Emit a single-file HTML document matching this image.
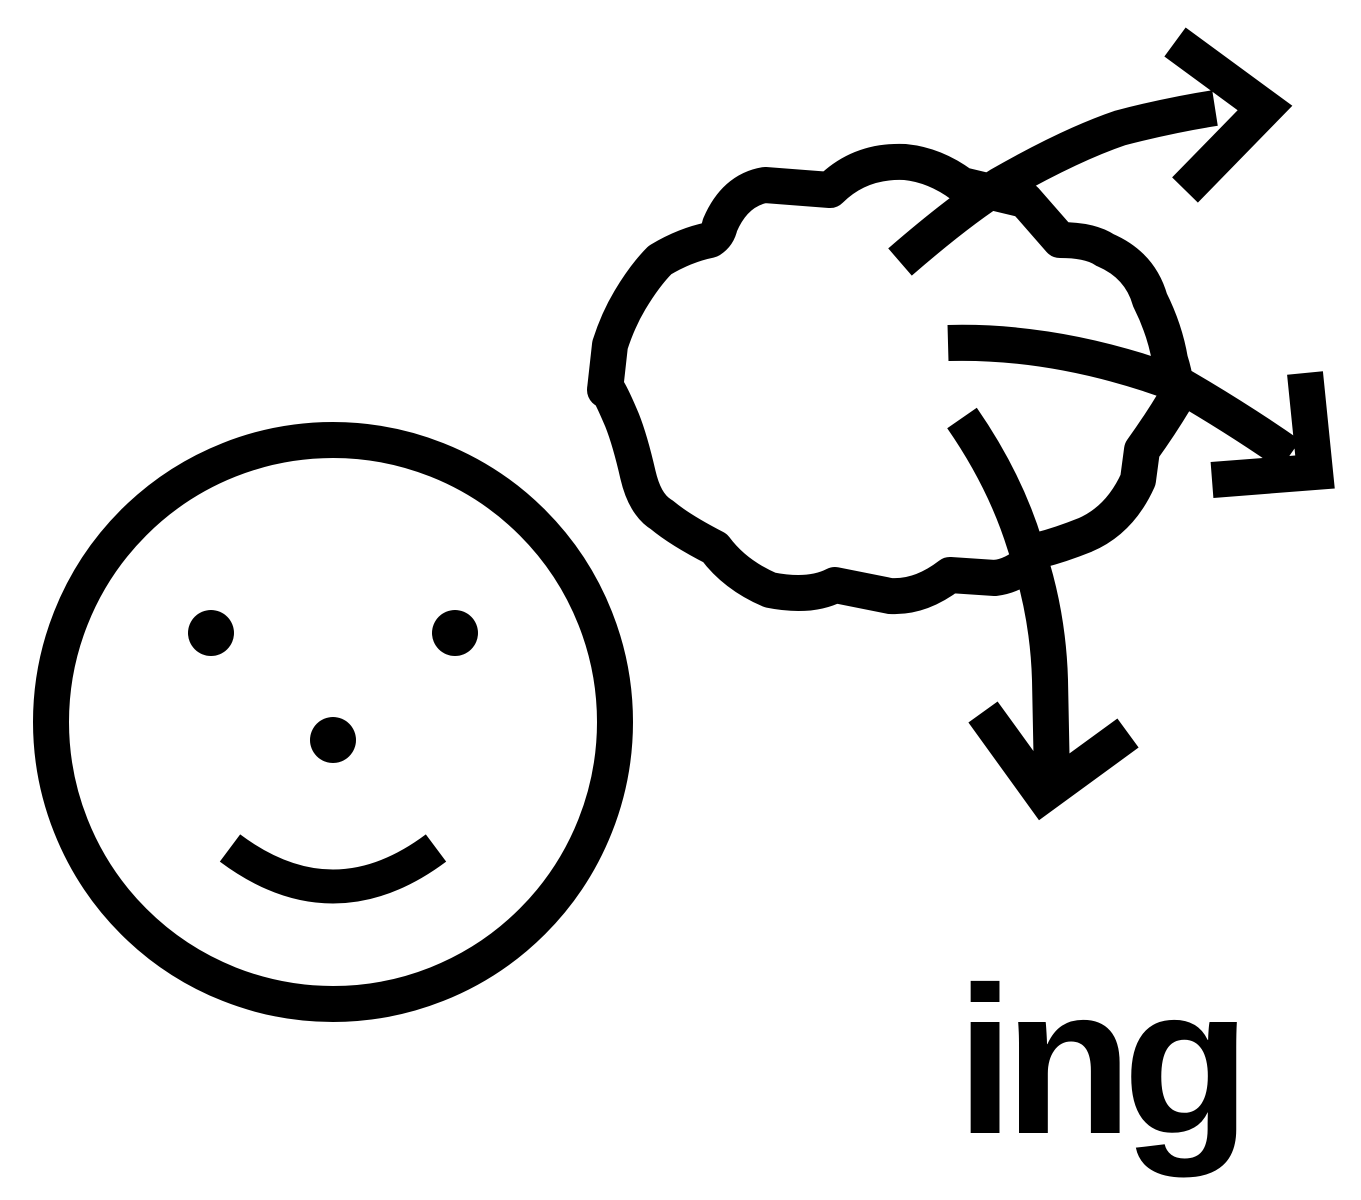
<!DOCTYPE html>
<html>
<head>
<meta charset="utf-8">
<style>
html,body{margin:0;padding:0;background:#fff;}
svg{display:block;}
</style>
</head>
<body>
<svg width="1361" height="1200" viewBox="0 0 1361 1200" xmlns="http://www.w3.org/2000/svg">
  <rect width="1361" height="1200" fill="#fff"/>
  <g fill="none" stroke="#000" stroke-linejoin="round" stroke-linecap="butt">
    <circle cx="333" cy="722" r="282" stroke-width="36"/>
    <path d="M230 848 Q333 925 436 848" stroke-width="34"/>
  </g>
  <g fill="#000">
    <circle cx="211" cy="633" r="23"/>
    <circle cx="455" cy="633" r="23"/>
    <circle cx="333" cy="740" r="23"/>
  </g>
  <path fill="none" stroke="#000" stroke-width="36" stroke-linejoin="round"
    d="M720 225 Q735 190 765 185 L830 190 Q860 160 905 162 Q935 165 962 185 L1025 200 L1060 240 Q1090 240 1105 250 Q1140 265 1150 300 Q1165 330 1170 360 Q1178 385 1175 400 Q1160 425 1142 450 L1138 480 Q1120 520 1085 535 Q1060 545 1040 550 Q1020 575 995 578 L950 575 Q920 598 890 596 L835 585 Q810 598 770 590 Q735 575 715 548 Q680 530 662 515 Q645 505 638 475 Q630 440 622 420 Q605 380 605 390 L610 345 Q618 320 630 300 Q645 275 660 260 Q685 245 710 240 Q718 235 720 225 Z"/>
  <g fill="none" stroke="#000" stroke-width="36" stroke-linejoin="miter" stroke-linecap="butt">
    <path d="M900 262 Q960 210 1000 185 Q1070 145 1120 128 Q1170 115 1215 108"/>
    <path d="M1175 42 L1265 108 L1185 190"/>
    <path d="M948 343 Q1060 340 1180 385 Q1240 420 1290 455"/>
    <path d="M1212 480 L1315 472 L1305 373"/>
    <path d="M962 418 Q1005 480 1025 545 Q1048 610 1050 680 L1052 780"/>
    <path d="M983 712 L1043 795 L1128 733"/>
  </g>
  <text x="956" y="1133" font-family="'Liberation Sans', sans-serif" font-weight="bold" font-size="210" letter-spacing="-10" fill="#000">ing</text>
</svg>
</body>
</html>
